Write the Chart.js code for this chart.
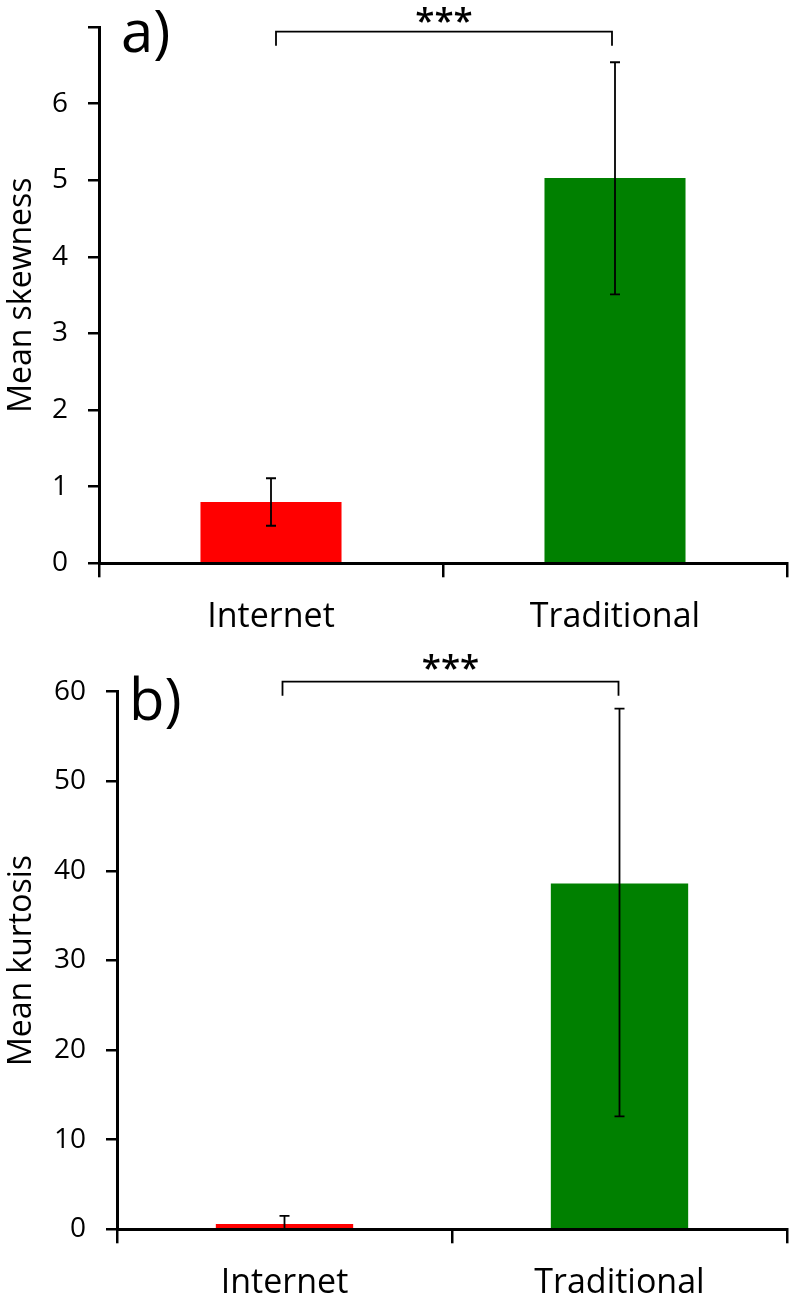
<!DOCTYPE html>
<html>
<head>
<meta charset="utf-8">
<script src="https://cdn.jsdelivr.net/npm/chart.js@4"></script>
<style>
  html, body { margin: 0; padding: 0; background: #fff; }
  canvas { display: block; }
</style>
</head>
<body>
<canvas id="skew-chart" width="796" height="650"></canvas>
<canvas id="kurt-chart" width="796" height="651"></canvas>
<script>
const categories = ['Internet', 'Traditional'];
const barColors = ['#ff0000', '#008000'];

// panel a) mean skewness with error bar ends
const skewMean = [0.80, 5.03];
const skewLow = [0.49, 3.51];
const skewHigh = [1.11, 6.54];
const skewTickLabels = ['0', '1', '2', '3', '4', '5', '6'];

// panel b) mean kurtosis with error bar ends
const kurtMean = [0.6, 38.6];
const kurtLow = [0, 12.6];
const kurtHigh = [1.5, 58.1];
const kurtTickLabels = ['0', '10', '20', '30', '40', '50', '60'];

const FONT = "'Open Sans', 'DejaVu Sans', sans-serif";

const errorBars = {
  id: 'errorBars',
  afterDatasetsDraw(chart, args, opts) {
    const ctx = chart.ctx;
    const y = chart.scales.y;
    ctx.save();
    ctx.strokeStyle = '#000';
    ctx.lineWidth = 1.8;
    chart.getDatasetMeta(0).data.forEach((bar, i) => {
      const top = y.getPixelForValue(opts.high[i]);
      const bottom = y.getPixelForValue(opts.low[i]);
      ctx.beginPath();
      ctx.moveTo(bar.x, top);
      ctx.lineTo(bar.x, bottom);
      ctx.moveTo(bar.x - 5, top);
      ctx.lineTo(bar.x + 5, top);
      ctx.moveTo(bar.x - 5, bottom);
      ctx.lineTo(bar.x + 5, bottom);
      ctx.stroke();
    });
    ctx.restore();
  }
};

// significance bracket, stars and the panel letter
const panelNotes = {
  id: 'panelNotes',
  afterDraw(chart, args, opts) {
    const ctx = chart.ctx;
    const bars = chart.getDatasetMeta(0).data;
    const x0 = bars[0].x + opts.shift[0];
    const x1 = bars[1].x + opts.shift[1];
    ctx.save();
    ctx.strokeStyle = '#000';
    ctx.lineWidth = 1.8;
    ctx.beginPath();
    ctx.moveTo(x0, opts.bracketY + 14);
    ctx.lineTo(x0, opts.bracketY);
    ctx.lineTo(x1, opts.bracketY);
    ctx.lineTo(x1, opts.bracketY + 14);
    ctx.stroke();

    ctx.fillStyle = '#000';
    ctx.textBaseline = 'alphabetic';
    ctx.textAlign = 'center';
    ctx.font = '600 35px ' + FONT;
    ctx.fillText('***', (x0 + x1) / 2, opts.starsY);

    ctx.textAlign = 'left';
    ctx.font = '58px ' + FONT;
    ctx.fillText(opts.letter, opts.letterX, opts.letterY);
    ctx.restore();
  }
};

function makeChart(id, cfg) {
  return new Chart(document.getElementById(id), {
    type: 'bar',
    data: {
      labels: categories,
      datasets: [{
        data: cfg.values,
        backgroundColor: barColors,
        barPercentage: 0.41,
        categoryPercentage: 1
      }]
    },
    options: {
      responsive: false,
      animation: false,
      devicePixelRatio: 1,
      layout: { padding: { left: 0, right: 9, top: cfg.top, bottom: 0 } },
      plugins: {
        legend: { display: false },
        tooltip: { enabled: false },
        errorBars: { low: cfg.low, high: cfg.high },
        panelNotes: cfg.notes
      },
      scales: {
        x: {
          z: 1,
          grid: { offset: true, drawOnChartArea: false, color: '#000', lineWidth: 2.5, tickLength: 14 },
          border: { color: '#000', width: 3 },
          ticks: { color: '#000', font: { family: FONT, size: 34 }, padding: 20 },
          afterFit(s) { s.height = cfg.xHeight; }
        },
        y: {
          min: 0,
          max: cfg.max,
          grid: { drawOnChartArea: false, color: '#000', lineWidth: 2.5, tickLength: 11 },
          border: { color: '#000', width: 3 },
          ticks: {
            stepSize: cfg.step,
            color: '#000',
            padding: 20,
            font: { family: FONT, size: 28 },
            callback: (v) => cfg.tickLabels.includes(String(v)) ? String(v) : ''
          },
          title: {
            display: true,
            text: cfg.title,
            color: '#000',
            font: { family: FONT, size: 32 },
            padding: { top: 3, bottom: 0 }
          },
          afterFit(s) {
            s.width = cfg.left;
            s.paddingTop = 0;
            s.paddingBottom = 0;
          }
        }
      }
    },
    plugins: [errorBars, panelNotes]
  });
}

makeChart('skew-chart', {
  values: skewMean, low: skewLow, high: skewHigh,
  max: 7, step: 1, tickLabels: skewTickLabels, title: 'Mean skewness',
  top: 27, left: 99, xHeight: 86.7,
  notes: { letter: 'a)', letterX: 121, letterY: 52, bracketY: 31.7, starsY: 33, shift: [5, -3] }
});

makeChart('kurt-chart', {
  values: kurtMean, low: kurtLow, high: kurtHigh,
  max: 60, step: 10, tickLabels: kurtTickLabels, title: 'Mean kurtosis',
  top: 41.7, left: 117, xHeight: 71.7,
  notes: { letter: 'b)', letterX: 129, letterY: 70, bracketY: 31.7, starsY: 30, shift: [-2, -1] }
});
</script>
</body>
</html>
